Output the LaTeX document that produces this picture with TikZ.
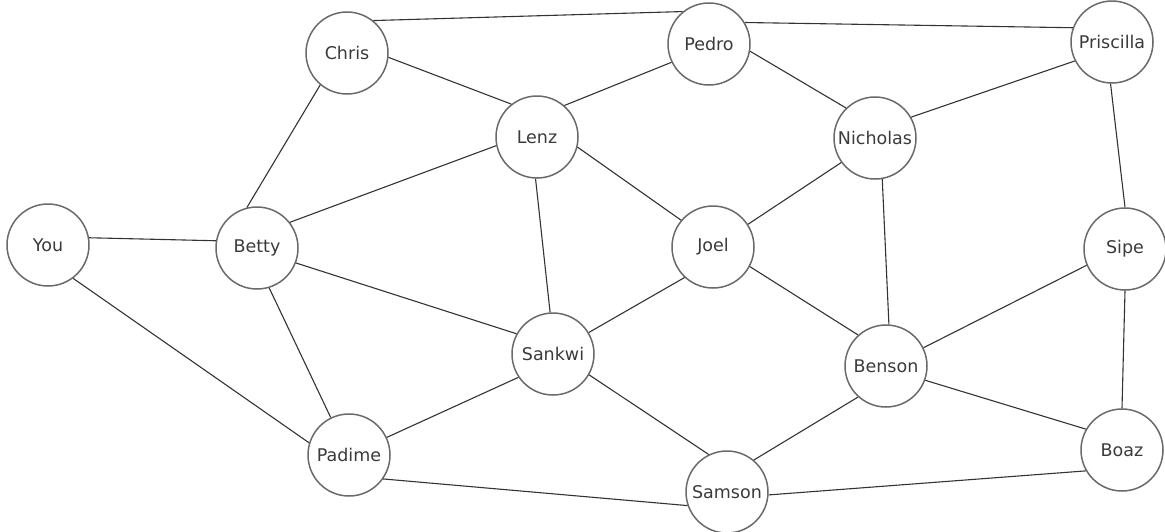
\documentclass[tikz,border=0pt]{standalone}
\usepackage{fontspec}
\setmainfont{DejaVu Sans}
\definecolor{ring}{HTML}{6A6A6A}
\definecolor{edge}{HTML}{333333}
\definecolor{txt}{HTML}{3A3A3A}
\begin{document}
\begin{tikzpicture}[x=1pt,y=-1pt,
  person/.style={circle,draw=ring,line width=1.5pt,minimum size=82pt,inner sep=0pt,
    font=\fontsize{17.5}{19}\selectfont,text=txt},
  link/.style={draw=edge,line width=1.1pt}]
\useasboundingbox (0,0) rectangle (1165,531);
\node[person] (You) at (48,245) {You};
\node[person] (Betty) at (257,248) {Betty};
\node[person] (Chris) at (347,53) {Chris};
\node[person] (Pedro) at (709,44) {Pedro};
\node[person] (Priscilla) at (1112,42) {Priscilla};
\node[person] (Lenz) at (537,137) {Lenz};
\node[person] (Nicholas) at (875,138) {Nicholas};
\node[person] (Joel) at (713,247) {Joel};
\node[person] (Sipe) at (1125,249) {Sipe};
\node[person] (Sankwi) at (553,354) {Sankwi};
\node[person] (Benson) at (886,366) {Benson};
\node[person] (Boaz) at (1122,450) {Boaz};
\node[person] (Padime) at (349,455) {Padime};
\node[person] (Samson) at (727,492) {Samson};

\draw[link] (You.10) -- (Betty.170);
\draw[link] (You.-53) -- (Padime.163);
\draw[link] (Betty.104) -- (Chris.230);
\draw[link] (Betty.38) -- (Lenz.192);
\draw[link] (Betty.-21) -- (Sankwi.151);
\draw[link] (Betty.-73) -- (Padime.116);
\draw[link] (Chris.-6) -- (Lenz.128);
\draw[link] (Chris.51) -- (Pedro.129);
\draw[link] (Pedro.31) -- (Priscilla.160);
\draw[link] (Pedro.206) -- (Lenz.49);
\draw[link] (Pedro.-10) -- (Nicholas.134);
\draw[link] (Priscilla.207) -- (Nicholas.30);
\draw[link] (Priscilla.-92) -- (Sipe.90);
\draw[link] (Lenz.-14) -- (Joel.140);
\draw[link] (Lenz.-92) -- (Sankwi.94);
\draw[link] (Nicholas.216) -- (Joel.33);
\draw[link] (Nicholas.-80) -- (Benson.86);
\draw[link] (Joel.227) -- (Sankwi.31);
\draw[link] (Joel.-28) -- (Benson.132);
\draw[link] (Sankwi.214) -- (Padime.25);
\draw[link] (Sankwi.-30) -- (Samson.116);
\draw[link] (Padime.-35) -- (Samson.199);
\draw[link] (Samson.50) -- (Benson.228);
\draw[link] (Samson.-4) -- (Boaz.210);
\draw[link] (Sipe.203) -- (Benson.26);
\draw[link] (Sipe.-90) -- (Boaz.90);
\draw[link] (Benson.-20) -- (Boaz.150);
\end{tikzpicture}
\end{document}
